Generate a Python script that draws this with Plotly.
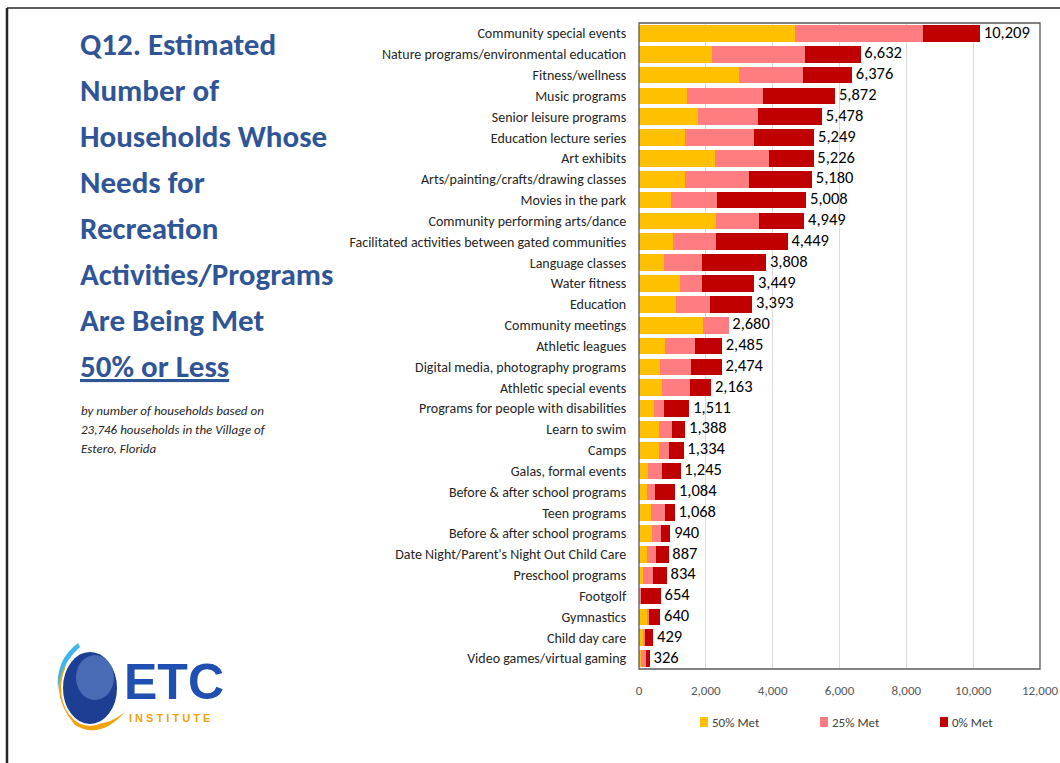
import plotly.graph_objects as go

categories = ["Community special events", "Nature programs/environmental education", "Fitness/wellness",
              "Music programs", "Senior leisure programs", "Education lecture series", "Art exhibits",
              "Arts/painting/crafts/drawing classes", "Movies in the park", "Community performing arts/dance",
              "Facilitated activities between gated communities", "Language classes", "Water fitness",
              "Education", "Community meetings", "Athletic leagues", "Digital media, photography programs",
              "Athletic special events", "Programs for people with disabilities", "Learn to swim", "Camps",
              "Galas, formal events", "Before & after school programs", "Teen programs",
              "Before & after school programs", "Date Night/Parent's Night Out Child Care",
              "Preschool programs", "Footgolf", "Gymnastics", "Child day care", "Video games/virtual gaming"]

met50 = [4680, 2190, 3000, 1430, 1770, 1390, 2280, 1370, 950, 2310, 1020, 740, 1220, 1120, 1910, 780,
         630, 690, 450, 600, 600, 270, 230, 360, 400, 250, 130, 30, 260, 130, 50]
met25 = [3820, 2780, 1910, 2270, 1780, 2060, 1600, 1920, 1390, 1290, 1290, 1150, 670, 1010, 770, 910,
         920, 830, 300, 400, 300, 410, 250, 420, 250, 250, 280, 30, 40, 40, 150]
met0 = [1709, 1662, 1466, 2172, 1928, 1799, 1346, 1890, 2668, 1349, 2139, 1918, 1559, 1263, 0, 795,
        924, 643, 761, 388, 434, 565, 604, 288, 290, 387, 424, 594, 340, 259, 126]

series_names = ["50% Met", "25% Met", "0% Met"]
series_colors = ["#FFC000", "#FF7C80", "#C00000"]

x_ticks = [0, 2000, 4000, 6000, 8000, 10000, 12000]

title_lines = ["Q12. Estimated", "Number of", "Households Whose", "Needs for", "Recreation",
               "Activities/Programs", "Are Being Met", "<u>50% or Less</u>"]
subtitle_lines = ["by number of households based on", "23,746 households in the Village of",
                  "Estero, Florida"]

W, H = 1060, 763
ML, MR, MT, MB = 639, 20, 23, 94
PW, PH = W - ML - MR, H - MT - MB
FONT = "Carlito, Lato, Liberation Sans, Arial"


def px(x):
    return (x - ML) / PW


def py(y):
    return 1 - (y - MT) / PH


pos = list(range(len(categories)))
totals = [a + b + c for a, b, c in zip(met50, met25, met0)]

fig = go.Figure()
for name, vals, col in zip(series_names, [met50, met25, met0], series_colors):
    fig.add_trace(go.Bar(y=pos, x=vals, name=name, orientation="h",
                         marker=dict(color=col, line=dict(width=0)), hoverinfo="x+name", showlegend=False))

fig.add_trace(go.Scatter(y=pos, x=totals, mode="text", text=[f" {t:,}" for t in totals],
                         textposition="middle right", showlegend=False,
                         textfont=dict(size=16.5, color="#000000", family=FONT)))

fig.update_layout(
    width=W, height=H, barmode="stack", bargap=0.2,
    margin=dict(l=ML, r=MR, t=MT, b=MB, autoexpand=False),
    paper_bgcolor="white", plot_bgcolor="white",
    font=dict(family=FONT, color="#404040"),
    xaxis=dict(range=[0, 12000], tickvals=x_ticks, tickformat=",d", showgrid=True, gridcolor="#D9D9D9",
               zeroline=False, tickfont=dict(size=13, color="#595959"), ticks="", ticklabelstandoff=12,
               showline=False, fixedrange=True, automargin=False),
    yaxis=dict(range=[len(categories) - 0.5, -0.5], tickvals=pos, ticktext=categories,
               tickfont=dict(size=14, color="#262626"), ticks="outside", ticklen=9,
               tickcolor="rgba(0,0,0,0)", showgrid=False, zeroline=False, showline=False, automargin=False),
    showlegend=False,
)

# plot area frame
fig.add_shape(type="rect", xref="paper", yref="paper", x0=0, x1=1, y0=0, y1=1,
              line=dict(color="#595959", width=1.3), fillcolor="rgba(0,0,0,0)", layer="above")
# outer border (left and top)
fig.add_shape(type="line", xref="paper", yref="paper", x0=px(7), x1=px(7), y0=py(8), y1=py(763),
              line=dict(color="#262626", width=2.5))
fig.add_shape(type="line", xref="paper", yref="paper", x0=px(7), x1=px(1060), y0=py(8), y1=py(8),
              line=dict(color="#262626", width=1.5))

# legend (drawn manually to match spacing)
for i, (name, col) in enumerate(zip(series_names, series_colors)):
    x0 = 700 + 120 * i
    fig.add_shape(type="rect", xref="paper", yref="paper", x0=px(x0), x1=px(x0 + 8), y0=py(717), y1=py(727),
                  fillcolor=col, line=dict(width=0))
    fig.add_annotation(xref="paper", yref="paper", x=px(x0 + 10), y=py(722), text=name, showarrow=False,
                       xanchor="left", yanchor="middle", font=dict(size=13, color="#404040", family=FONT))

for i, line in enumerate(title_lines):
    fig.add_annotation(xref="paper", yref="paper", x=px(78), y=py(44 + 46 * i), text="<b>" + line + "</b>",
                       showarrow=False, xanchor="left", yanchor="middle",
                       font=dict(size=31, color="#2F5597", family=FONT))
for i, line in enumerate(subtitle_lines):
    fig.add_annotation(xref="paper", yref="paper", x=px(79), y=py(410 + 19.5 * i), text="<i>" + line + "</i>",
                       showarrow=False, xanchor="left", yanchor="middle",
                       font=dict(size=13, color="#262626", family=FONT))

# ETC Institute logo (approximation)
fig.add_shape(type="path", xref="paper", yref="paper",
              path=f"M {px(70)},{py(650)} Q {px(45)},{py(690)} {px(75)},{py(725)} Q {px(100)},{py(740)} {px(125)},{py(712)}"
                   f" Q {px(100)},{py(732)} {px(78)},{py(718)} Q {px(55)},{py(690)} {px(70)},{py(650)} Z",
              fillcolor="#F2A20C", line=dict(width=0))
fig.add_shape(type="path", xref="paper", yref="paper",
              path=f"M {px(78)},{py(643)} Q {px(55)},{py(660)} {px(58)},{py(690)} Q {px(60)},{py(665)} {px(80)},{py(647)} Z",
              fillcolor="#3FB5E8", line=dict(width=0))
fig.add_shape(type="circle", xref="paper", yref="paper", x0=px(62), x1=px(118), y0=py(651), y1=py(725),
              fillcolor="#1C3F94", line=dict(color="#FFFFFF", width=2))
fig.add_shape(type="circle", xref="paper", yref="paper", x0=px(76), x1=px(114), y0=py(655), y1=py(700),
              fillcolor="#5C7FC4", line=dict(width=0), opacity=0.7)
fig.add_annotation(xref="paper", yref="paper", x=px(122), y=py(682), text="<b>ETC</b>", showarrow=False,
                   xanchor="left", yanchor="middle",
                   font=dict(size=50, color="#1F4FB0", family="Liberation Sans, Arial"))
fig.add_annotation(xref="paper", yref="paper", x=px(127), y=py(718), text="<b>I N S T I T U T E</b>",
                   showarrow=False, xanchor="left", yanchor="middle",
                   font=dict(size=11, color="#F2A20C", family="Liberation Sans, Arial"))

fig.write_html("out.html", config={"displayModeBar": False},
               post_script="document.body.style.margin='0px';")
